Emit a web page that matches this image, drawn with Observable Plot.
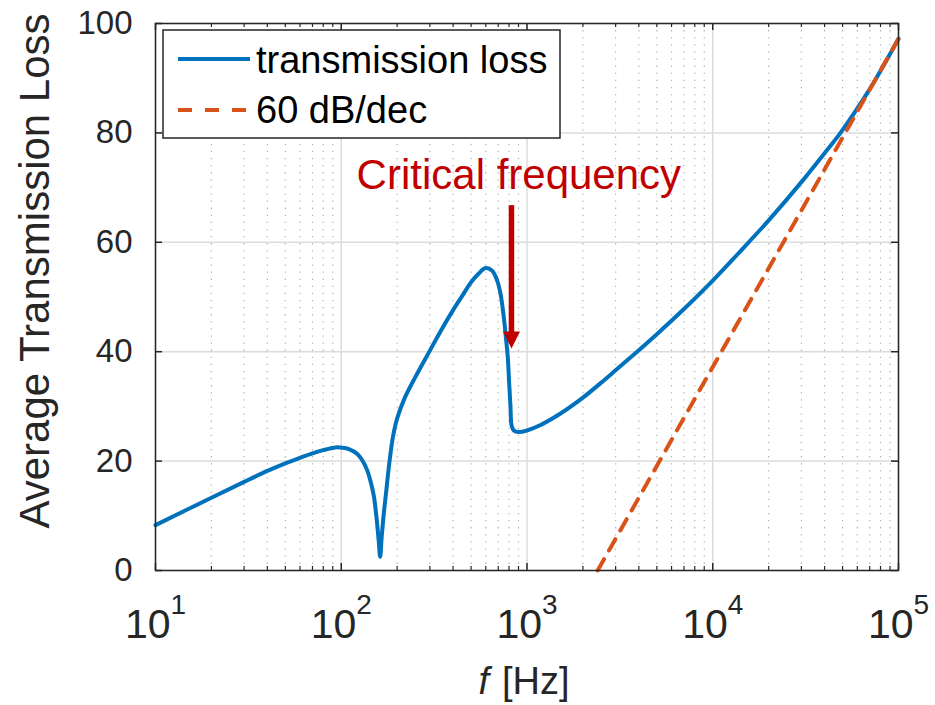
<!DOCTYPE html>
<html>
<head>
<meta charset="utf-8">
<script src="https://cdn.jsdelivr.net/npm/d3@7"></script>
<script src="https://cdn.jsdelivr.net/npm/@observablehq/plot@0.6"></script>
<style>
  html, body { margin: 0; padding: 0; background: #ffffff; }
  #chart svg { display: block; }
</style>
</head>
<body>
<div id="chart"></div>
<script>
// ---- data ----
const freqHz = [10, 20, 30, 40, 50, 60, 70, 80, 93, 100,
                110, 122, 130, 138, 145, 150, 155, 159, 162, 165,
                169, 174, 182, 190, 200, 220, 250, 300, 350, 400,
                450, 500, 550, 598, 649, 691, 720, 750, 773, 788,
                802, 815, 826, 849, 903, 1000, 1183, 1500, 2000, 2500,
                3000, 3917, 5000, 7000, 10000, 15600, 20000, 30000, 40000, 48700,
                70000, 85000, 100000];
const lossDb = [8.3, 13.3, 16.2, 18.2, 19.6, 20.6, 21.4, 22.0, 22.5, 22.45,
                22.2, 21.3, 20.1, 18.3, 15.8, 13.5, 9.5, 5.5, 2.5, 6.0,
                10.0, 14.0, 20.0, 24.5, 27.8, 31.6, 35.3, 40.2, 44.3, 47.6,
                50.3, 52.7, 54.3, 55.3, 54.8, 53.0, 50.6, 46.3, 42.0, 39.0,
                34.1, 29.9, 26.5, 25.6, 25.3, 25.6, 26.6, 28.6, 31.6, 34.3,
                36.6, 40.0, 43.2, 47.8, 53.0, 60.0, 64.0, 71.0, 76.3, 80.0,
                88.0, 92.9, 97.2];
const slopeHz = [2400, 100000];
const slopeDb = [0, 97.2];

const xMajorTicks = [10, 100, 1000, 10000, 100000];
const xTickExponents = ["1", "2", "3", "4", "5"];
const xMinorTicks = [20, 30, 40, 50, 60, 70, 80, 90,
                     200, 300, 400, 500, 600, 700, 800, 900,
                     2000, 3000, 4000, 5000, 6000, 7000, 8000, 9000,
                     20000, 30000, 40000, 50000, 60000, 70000, 80000, 90000];
const yTicks = [0, 20, 40, 60, 80, 100];
const seriesNames = ["transmission loss", "60 dB/dec"];
const yLabel = "Average Transmission Loss";
const xLabelVar = "f";
const xLabelUnit = "[Hz]";
const annotationText = "Critical frequency";
const criticalFreq = 830;      // arrow position (Hz)
const arrowFromDb = 66.7;
const arrowToDb = 40.5;
const annotationFreq = 904;
const annotationDb = 69.7;

// ---- tables ----
const lossTable = freqHz.map((f, i) => ({f, v: lossDb[i]}));
const slopeTable = slopeHz.map((f, i) => ({f, v: slopeDb[i]}));
const xTickTable = xMajorTicks.map((f, i) => ({f, e: xTickExponents[i]}));

const BLUE = "#0072BD", ORANGE = "#D95319", RED = "#C00000", AXIS = "#262626";
const FONT = "'Liberation Sans', Arial, Helvetica, sans-serif";

const W = 935, H = 705;
const mL = 155, mR = 37, mT = 23, mB = 135;
const fw = W - mL - mR, fh = H - mT - mB;

// arrow (shaft + filled head) drawn via the plot's scales
function arrowMark(index, scales) {
  const x = scales.x(criticalFreq);
  const y0 = scales.y(arrowFromDb);
  const y1 = scales.y(arrowToDb);
  const head = 17, half = 8.5;
  const g = d3.create("svg:g");
  g.append("line").attr("x1", x).attr("x2", x).attr("y1", y0).attr("y2", y1 - head + 1)
    .attr("stroke", RED).attr("stroke-width", 5.5);
  g.append("path").attr("d", `M${x - half},${y1 - head}L${x + half},${y1 - head}L${x},${y1}Z`)
    .attr("fill", RED);
  return g.node();
}

// legend box in the upper-left of the frame
function legendMark() {
  const g = d3.create("svg:g").attr("font-family", FONT).attr("text-anchor", "start");
  const bx = 163, by = 30, bw = 397, bh = 108;
  g.append("rect").attr("x", bx).attr("y", by).attr("width", bw).attr("height", bh)
    .attr("fill", "#fff").attr("stroke", AXIS).attr("stroke-width", 1.5);
  const rows = [
    {name: seriesNames[0], color: BLUE, dash: null, ly: 59, ty: 73},
    {name: seriesNames[1], color: ORANGE, dash: "14,13", ly: 110, ty: 123}
  ];
  for (const r of rows) {
    const ln = g.append("line").attr("x1", 178).attr("x2", 250).attr("y1", r.ly).attr("y2", r.ly)
      .attr("stroke", r.color).attr("stroke-width", 4);
    if (r.dash) ln.attr("stroke-dasharray", r.dash);
    g.append("text").attr("x", 256).attr("y", r.ty).attr("font-size", 38)
      .attr("text-anchor", "start").attr("fill", "#000").text(r.name);
  }
  return g.node();
}

const plot = Plot.plot({
  width: W, height: H,
  marginLeft: mL, marginRight: mR, marginTop: mT, marginBottom: mB,
  style: {fontFamily: FONT, background: "#fff", overflow: "visible"},
  x: {type: "log", domain: [10, 100000], axis: null},
  y: {domain: [0, 100], axis: null},
  marks: [
    // minor dotted grid
    Plot.ruleX(xMinorTicks, {stroke: "#b3b3b3", strokeWidth: 1.2, strokeDasharray: "1.3,5.8"}),
    // major grid
    Plot.ruleX(xMajorTicks, {stroke: "#dcdcdc", strokeWidth: 1.5}),
    Plot.ruleY(yTicks, {stroke: "#dcdcdc", strokeWidth: 1.5}),
    // series
    Plot.line(lossTable, {x: "f", y: "v", stroke: BLUE, strokeWidth: 4, curve: "catmull-rom"}),
    Plot.line(slopeTable, {x: "f", y: "v", stroke: ORANGE, strokeWidth: 4, strokeDasharray: "13,10"}),
    // ticks (inward, on all four sides)
    Plot.ruleX(xMajorTicks, {stroke: AXIS, strokeWidth: 1.5, insetTop: fh - 7}),
    Plot.ruleX(xMajorTicks, {stroke: AXIS, strokeWidth: 1.5, insetBottom: fh - 7}),
    Plot.ruleX(xMinorTicks, {stroke: AXIS, strokeWidth: 1.2, insetTop: fh - 4}),
    Plot.ruleX(xMinorTicks, {stroke: AXIS, strokeWidth: 1.2, insetBottom: fh - 4}),
    Plot.ruleY(yTicks, {stroke: AXIS, strokeWidth: 1.5, insetRight: fw - 7}),
    Plot.ruleY(yTicks, {stroke: AXIS, strokeWidth: 1.5, insetLeft: fw - 7}),
    Plot.frame({stroke: AXIS, strokeWidth: 1.5}),
    // y tick labels
    Plot.text(yTicks, {y: d => d, text: d => String(d), frameAnchor: "left", textAnchor: "end",
      dx: -23, fontSize: 33, fill: AXIS}),
    // x tick labels 10^n
    Plot.text(xTickTable, {x: "f", text: () => "10", frameAnchor: "bottom", textAnchor: "end",
      lineAnchor: "bottom", dx: 15, dy: 67, fontSize: 41, fill: AXIS}),
    Plot.text(xTickTable, {x: "f", text: "e", frameAnchor: "bottom", textAnchor: "start",
      lineAnchor: "bottom", dx: 15, dy: 43, fontSize: 28, fill: AXIS}),
    // axis labels
    Plot.text([xLabelVar], {frameAnchor: "bottom", text: d => d, textAnchor: "end", lineAnchor: "bottom",
      dx: -38, dy: 123, fontSize: 38, fontStyle: "italic", fill: AXIS}),
    Plot.text([xLabelUnit], {frameAnchor: "bottom", text: d => d, textAnchor: "start", lineAnchor: "bottom",
      dx: -25, dy: 123, fontSize: 38, fill: AXIS}),
    Plot.text([yLabel], {frameAnchor: "left", text: d => d, rotate: -90, textAnchor: "middle",
      lineAnchor: "bottom", dx: -107, dy: -26, fontSize: 42, fill: AXIS}),
    // annotation
    Plot.text([annotationText], {x: () => annotationFreq, y: () => annotationDb, text: d => d,
      textAnchor: "middle", lineAnchor: "bottom", fontSize: 42, fill: RED}),
    arrowMark,
    legendMark
  ]
});

document.getElementById("chart").appendChild(plot);
</script>
</body>
</html>
